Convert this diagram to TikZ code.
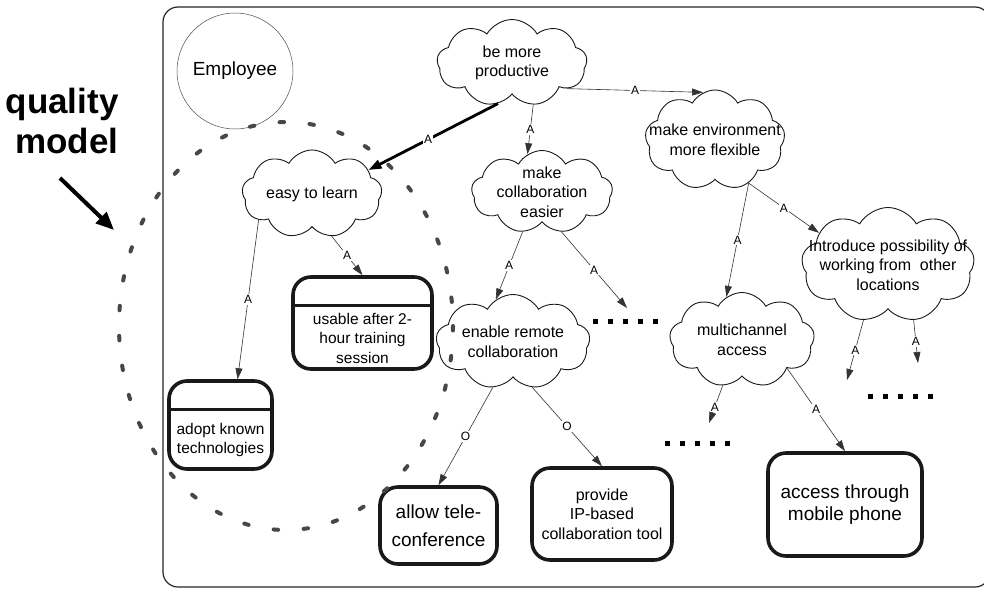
\documentclass[tikz,border=0pt]{standalone}
\usepackage{fontspec}
\setmainfont{Liberation Sans}
\usetikzlibrary{shapes.symbols,arrows.meta,calc}
\begin{document}
\begin{tikzpicture}[x=1pt,y=-1pt,
  cloudnode/.style={cloud, cloud puffs=9, cloud puff arc=120, cloud ignores aspect, draw=black!90, line width=0.9pt, align=center, font=\fontsize{16}{19.5}\selectfont, inner xsep=-40pt, inner ysep=-25pt},
  goalbox/.style={draw=black!90, line width=3.6pt, rounded corners=18pt, inner sep=0pt},
  divider/.style={draw=black!90, line width=3pt},
  boxtext/.style={align=center, font=\fontsize{15.5}{19.5}\selectfont},
  bigtext/.style={align=center, font=\fontsize{19}{22}\selectfont},
  conn/.style={draw=black!80, line width=0.6pt, -{Triangle[length=11pt,width=7pt]}},
  thickconn/.style={draw=black, line width=2.8pt, -{Triangle[length=13pt,width=9pt]}},
  lab/.style={fill=white, inner sep=1.2pt, font=\fontsize{12}{12}\selectfont},
  dotrow/.style={draw=black, line width=5pt, dash pattern=on 5pt off 10pt},
  qmline/.style={draw=black!72, line width=4pt, dash pattern=on 4.5pt off 25.5pt, line cap=round}
]
\useasboundingbox (0,0) rectangle (984,589);
\fill[white] (0,0) rectangle (984,589);
\begin{scope}
\clip (0,0) rectangle (984,589);
\draw[black!85, line width=1.2pt, rounded corners=15pt] (163,7) rectangle (990,587);
\end{scope}

% quality model label and arrow
\node[anchor=east, align=right, font=\bfseries\fontsize{35}{40}\selectfont] (qm) at (122,121) {quality\\model};
\coordinate (qa) at (60,178);
\coordinate (qb) at (114,230);
\draw[line width=4pt, -{Triangle[length=18pt,width=15pt]}] (qa) -- (qb);

% employee
\node[draw=black!70, circle, line width=0.5pt, minimum size=116pt, font=\fontsize{19}{19}\selectfont] (emp) at (235,71) {Employee};

% clouds
\node[cloudnode, minimum width=150pt, minimum height=87pt] (prod) at (512,63) {be more\\productive};
\node[cloudnode, minimum width=140pt, minimum height=100pt] (env) at (715,140) {make environment\\more flexible};
\node[cloudnode, minimum width=141pt, minimum height=83pt] (collab) at (542,192) {make\\collaboration\\easier};
\node[cloudnode, minimum width=140pt, minimum height=88pt] (easy) at (312,194) {easy to learn};
\node[cloudnode, minimum width=154pt, minimum height=95pt] (remote) at (513,342) {enable remote\\collaboration};
\node[cloudnode, minimum width=145pt, minimum height=95pt] (multi) at (742,340) {multichannel\\access};
\node[cloudnode, minimum width=173pt, minimum height=115pt] (intro) at (888,265) {Introduce possibility of\\working from \ other\\locations};

% goal boxes
\node[goalbox, minimum width=139pt, minimum height=92pt] (usable) at (362.5,323) {};
\draw[divider] ($(usable.north west)+(0,30)$) -- ($(usable.north east)+(0,30)$);
\node[boxtext] (usabletxt) at (362.5,338) {usable after 2-\\hour training\\session};

\node[goalbox, minimum width=103pt, minimum height=88pt] (adopt) at (220.5,425) {};
\draw[divider] ($(adopt.north west)+(0,30)$) -- ($(adopt.north east)+(0,30)$);
\node[boxtext] (adopttxt) at (220.5,440) {adopt known\\technologies};

\node[goalbox, minimum width=117pt, minimum height=77pt, bigtext, font=\fontsize{19}{28}\selectfont] (tele) at (438.5,525.5) {allow tele-\\conference};
\node[goalbox, minimum width=140pt, minimum height=92pt, boxtext, font=\fontsize{16}{19.5}\selectfont] (provide) at (602,514) {provide\\IP-based\\collaboration tool};
\node[goalbox, minimum width=154pt, minimum height=103pt, bigtext] (mobile) at (845,504.5) {access through\\mobile phone};

% dot rows and free ends
\coordinate (d1s) at (593,321); \coordinate (d1e) at (658,321);
\coordinate (d2s) at (665,443); \coordinate (d2e) at (732,443);
\coordinate (d3s) at (868,396); \coordinate (d3e) at (935,396);
\draw[dotrow] (d1s) -- (d1e);
\draw[dotrow] (d2s) -- (d2e);
\draw[dotrow] (d3s) -- (d3e);
\coordinate (e11) at (627,308);
\coordinate (e6) at (847,380);
\coordinate (e7) at (918,363);
\coordinate (e8) at (709,423);

% connectors
\draw[thickconn] (prod.251) -- node[lab, pos=0.54]{A} (easy.23);
\draw[conn] (prod.297) -- node[lab]{A} (collab.111);
\draw[conn] (prod.335) -- node[lab]{A} (env.104);
\draw[conn] (env.308) -- node[lab]{A} (multi.110);
\draw[conn] (env.308) -- node[lab]{A} (intro.155);
\draw[conn] (intro.246) -- node[lab]{A} (e6);
\draw[conn] (intro.295) -- node[lab]{A} (e7);
\draw[conn] (multi.247) -- node[lab, pos=0.57]{A} (e8);
\draw[conn] (multi.328) -- node[lab]{A} (mobile.north);
\draw[conn] (collab.244) -- node[lab]{A} (remote.112);
\draw[conn] (collab.296) -- node[lab]{A} (e11);
\draw[conn] (remote.246) -- node[lab]{O} (tele.north);
\draw[conn] (remote.293) -- node[lab]{O} (provide.north);
\draw[conn] (easy.295) -- node[lab]{A} (usable.north);
\draw[conn] (easy.206) -- node[lab]{A} ($(adopt.north west)!0.66!(adopt.north east)$);

% quality model boundary
\draw[qmline] (286,326) ellipse [x radius=167, y radius=204];
\end{tikzpicture}
\end{document}
